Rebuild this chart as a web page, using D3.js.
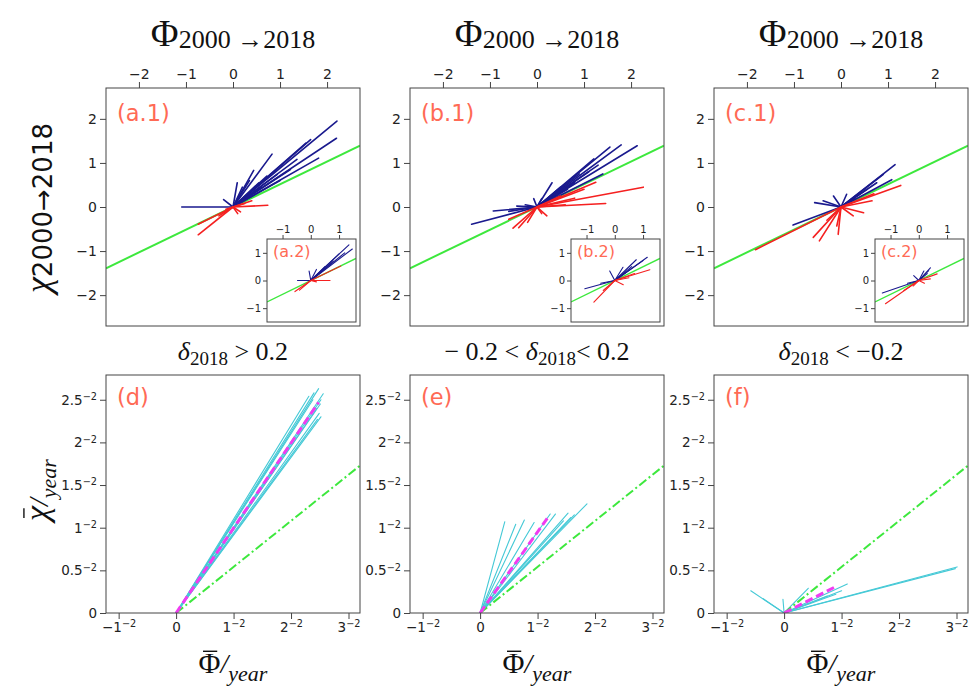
<!DOCTYPE html>
<html><head><meta charset="utf-8">
<script src="https://cdn.jsdelivr.net/npm/d3@7"></script>
<style>body{margin:0;background:#fff}svg{display:block}</style>
</head><body>
<svg id="c" width="976" height="691"></svg>
<script>
// ---------- tick values / labels ----------
const topTicks = [-2, -1, 0, 1, 2];
const insetTicks = [-1, 0, 1];
const botXTicks = [-1, 0, 1, 2, 3];
const botYTicks = [0, 0.5, 1, 1.5, 2, 2.5];
const tickExponent = "−2";
const topPanelLabels = ["(a.1)", "(b.1)", "(c.1)"];
const insetPanelLabels = ["(a.2)", "(b.2)", "(c.2)"];
const botPanelLabels = ["(d)", "(e)", "(f)"];
// [text, isSubscript, isItalic]
const midTitles = [
  [["δ", 0, 1], ["2018", 1, 0], [" > 0.2", 0, 0]],
  [["− 0.2 < ", 0, 0], ["δ", 0, 1], ["2018", 1, 0], ["< 0.2", 0, 0]],
  [["δ", 0, 1], ["2018", 1, 0], [" < −0.2", 0, 0]]
];
// reference line slopes
const greenSlopeTop = 0.515;
const greenSlopeInset = 0.5;
const greenSlopeBot = 0.54;

// ---------- top row: vector end points (start at origin) ----------
const blueA1 = [[2.21,1.95],[2.20,1.56],[1.82,1.11],[1.65,1.53],[1.55,1.45],[1.36,1.08],[1.22,0.85],[0.94,0.74],[0.83,1.20],[0.72,0.70],[0.44,0.83],[0.35,0.60],[0.55,0.55],[0.09,0.55],[0.20,0.45],[-0.20,0.17],[-1.09,0.0],[0.60,0.45],[1.00,0.60]];
const redA1 = [[-0.74,-0.63],[-0.74,-0.39],[0.74,0.04],[0.40,0.14],[0.16,-0.11],[-0.15,-0.05],[0.25,0.08],[-0.30,-0.20],[0.10,-0.15]];
const blueB1 = [[2.13,1.39],[1.79,1.41],[1.55,1.36],[1.21,1.09],[1.30,0.95],[1.10,0.80],[0.90,0.75],[0.80,0.55],[0.32,0.55],[0.50,0.45],[-1.39,-0.39],[-0.93,-0.09],[-0.43,0.02],[-0.60,-0.10],[-0.07,0.19],[0.10,0.19],[-0.25,0.05],[1.40,0.75],[0.65,0.40]];
const redB1 = [[2.26,0.45],[1.46,0.08],[1.25,0.56],[1.00,0.40],[0.80,0.20],[-0.51,-0.48],[-0.39,-0.47],[0.21,-0.20],[-0.60,-0.28],[0.10,-0.15],[0.50,0.25],[-0.20,-0.35],[0.60,0.05]];
const blueC1 = [[1.15,0.96],[0.90,0.74],[1.08,0.62],[0.76,0.55],[0.55,0.40],[-1.02,-0.41],[-0.38,0.14],[-0.16,0.25],[0.12,0.29],[-0.56,0.10],[0.30,0.20]];
const redC1 = [[1.27,0.49],[-1.82,-0.97],[-0.59,-0.69],[-0.46,-0.77],[-0.06,-0.62],[-0.09,-0.43],[0.66,0.14],[0.26,-0.20],[0.48,-0.13],[0.70,0.30],[-0.30,-0.30]];
// insets
const blueA2 = [[1.35,1.29],[1.47,1.14],[1.00,0.96],[1.20,1.00],[0.80,0.70],[0.50,0.50],[-0.47,0.0],[-0.06,0.34],[0.20,0.40]];
const redA2 = [[-0.56,-0.40],[0.68,0.0],[1.06,0.52],[-0.40,-0.35],[0.20,-0.05]];
const blueB2 = [[1.15,0.84],[1.00,0.72],[0.76,0.75],[0.60,0.50],[-1.06,-0.30],[-0.18,0.34],[0.29,0.48],[-0.50,-0.10],[0.40,0.30]];
const redB2 = [[1.24,0.39],[-0.74,-0.78],[-0.41,-0.36],[0.50,0.10],[0.30,-0.15],[0.70,0.25]];
const blueC2 = [[0.41,0.46],[0.35,0.36],[-1.29,-0.45],[-0.18,0.18],[0.18,0.34],[0.30,0.25],[-0.40,-0.10]];
const redC2 = [[-1.18,-0.84],[-0.53,-0.36],[0.41,0.06],[0.65,0.24],[0.20,-0.10],[-0.20,-0.20]];

// ---------- bottom row ----------
const cyanD = [[2.31,2.54],[2.40,2.58],[2.48,2.63],[2.56,2.57],[2.52,2.50],[2.51,2.45],[2.49,2.34],[2.52,2.30],[2.46,2.27],[2.45,2.40],[2.38,2.50]];
const cyanE = [[0.43,1.07],[0.62,1.04],[0.77,1.09],[0.94,1.06],[1.22,1.16],[1.31,1.16],[1.53,1.17],[1.64,1.15],[1.86,1.28],[1.45,1.08],[1.58,1.12]];
const cyanF = [[-0.58,0.26],[-0.37,0.17],[-0.02,0.16],[0.42,0.29],[1.10,0.34],[1.00,0.26],[0.90,0.22],[0.75,0.20],[3.01,0.54],[2.98,0.52]];
const meanD = [2.48, 2.47];
const meanE = [1.19, 1.13];
const meanF = [0.87, 0.30];

const topBlue = [blueA1, blueB1, blueC1], topRed = [redA1, redB1, redC1];
const insBlue = [blueA2, blueB2, blueC2], insRed = [redA2, redB2, redC2];
const botCyan = [cyanD, cyanE, cyanF], botMean = [meanD, meanE, meanF];

// ---------- layout ----------
const colX = [106, 410, 714], W = 254, H = 238;
const topY = 88, botY = 375;
const C = {blue:"#1a1a8e", red:"#f52020", green:"#3de83d", cyan:"#45c9d6", mag:"#f03cf0", lab:"#ff6a55", frame:"#444", txt:"#222"};
const tickFont = "DejaVu Sans, sans-serif";
const mathFont = "Liberation Serif, DejaVu Serif, serif";

const svg = d3.select("#c");
const fmtNum = d => (d < 0 ? "−" : "") + Math.abs(d);

function styleAxis(g, fs) {
  g.select(".domain").remove();
  g.selectAll(".tick line").attr("stroke", C.frame);
  g.selectAll(".tick text").attr("fill", C.txt).attr("font-family", tickFont).attr("font-size", fs);
}
function frame(g, x, y, w, h) {
  g.append("rect").attr("x", x).attr("y", y).attr("width", w).attr("height", h)
   .attr("fill", "none").attr("stroke", C.frame).attr("stroke-width", 1);
}
let clipId = 0;
function clip(x, y, w, h) {
  const id = "cl" + (clipId++);
  svg.append("clipPath").attr("id", id).append("rect").attr("x", x).attr("y", y).attr("width", w).attr("height", h);
  return "url(#" + id + ")";
}
function vectors(g, xs, ys, pts, color, sw) {
  g.selectAll(null).data(pts).join("line")
    .attr("x1", xs(0)).attr("y1", ys(0))
    .attr("x2", d => xs(d[0])).attr("y2", d => ys(d[1]))
    .attr("stroke", color).attr("stroke-width", sw).attr("stroke-linecap", "round");
}
function supTicks(g) {
  g.selectAll(".tick text").each(function(d) {
    const t = d3.select(this); t.text(null);
    t.append("tspan").text(fmtNum(d));
    if (d !== 0) t.append("tspan").attr("dy", "-0.45em").attr("font-size", "0.72em").text(tickExponent);
  });
}
// "X̄/year" label inside group g (already positioned); overline drawn from first glyph extent
function barLabel(g, sym, symSize) {
  const t = g.append("text").attr("text-anchor", "middle").attr("font-family", mathFont).attr("fill", "#111");
  t.append("tspan").attr("font-size", symSize).attr("font-style", sym === "χ" ? "italic" : "normal").text(sym);
  t.append("tspan").attr("font-size", 28).attr("font-style", "italic").text("/");
  t.append("tspan").attr("font-size", 22).attr("font-style", "italic").attr("dy", 8).text("year");
  const r = t.node().getExtentOfChar(0);
  const top = r.y + r.height * 0.16;
  g.append("line").attr("x1", r.x + r.width * 0.2).attr("x2", r.x + r.width * 0.85)
    .attr("y1", top).attr("y2", top).attr("stroke", "#111").attr("stroke-width", 1.4);
}

for (let i = 0; i < 3; i++) {
  const x0 = colX[i];
  // ================= top panel =================
  const xs = d3.scaleLinear().domain([-2.7, 2.7]).range([x0, x0 + W]);
  const ys = d3.scaleLinear().domain([-2.7, 2.7]).range([topY + H, topY]);
  const gT = svg.append("g");
  const cp = gT.append("g").attr("clip-path", clip(x0, topY, W, H));
  cp.append("line").attr("x1", xs(-2.7)).attr("y1", ys(-2.7 * greenSlopeTop))
    .attr("x2", xs(2.7)).attr("y2", ys(2.7 * greenSlopeTop))
    .attr("stroke", C.green).attr("stroke-width", 2);
  vectors(cp, xs, ys, topBlue[i], C.blue, 1.6);
  vectors(cp, xs, ys, topRed[i], C.red, 1.6);
  gT.append("g").attr("transform", `translate(0,${topY})`)
    .call(d3.axisTop(xs).tickValues(topTicks).tickSize(6).tickPadding(3).tickFormat(fmtNum))
    .call(g => styleAxis(g, 14));
  gT.append("g").attr("transform", `translate(${x0},0)`)
    .call(d3.axisLeft(ys).tickValues(topTicks).tickSize(6).tickPadding(3).tickFormat(fmtNum))
    .call(g => styleAxis(g, 14));
  frame(gT, x0, topY, W, H);
  gT.append("text").attr("x", x0 + 11).attr("y", topY + 33).text(topPanelLabels[i])
    .attr("fill", C.lab).attr("font-family", tickFont).attr("font-size", 22.5);

  // ================= inset =================
  const ix = x0 + 161, iy = topY + 151, iw = 89, ih = 83;
  const xi = d3.scaleLinear().domain([-1.55, 1.6]).range([ix, ix + iw]);
  const yi = d3.scaleLinear().domain([-1.5, 1.5]).range([iy + ih, iy]);
  const gI = svg.append("g");
  gI.append("rect").attr("x", ix).attr("y", iy).attr("width", iw).attr("height", ih).attr("fill", "#fff");
  const ci = gI.append("g").attr("clip-path", clip(ix, iy, iw, ih));
  ci.append("line").attr("x1", xi(-1.55)).attr("y1", yi(-1.55 * greenSlopeInset))
    .attr("x2", xi(1.6)).attr("y2", yi(1.6 * greenSlopeInset))
    .attr("stroke", C.green).attr("stroke-width", 1.4);
  vectors(ci, xi, yi, insBlue[i], C.blue, 1.1);
  vectors(ci, xi, yi, insRed[i], C.red, 1.1);
  gI.append("g").attr("transform", `translate(0,${iy})`)
    .call(d3.axisTop(xi).tickValues(insetTicks).tickSize(4).tickPadding(2).tickFormat(fmtNum))
    .call(g => styleAxis(g, 10));
  gI.append("g").attr("transform", `translate(${ix},0)`)
    .call(d3.axisLeft(yi).tickValues(insetTicks).tickSize(4).tickPadding(2).tickFormat(fmtNum))
    .call(g => styleAxis(g, 10));
  frame(gI, ix, iy, iw, ih);
  gI.append("text").attr("x", ix + 6).attr("y", iy + 18).text(insetPanelLabels[i])
    .attr("fill", C.lab).attr("font-family", tickFont).attr("font-size", 16);

  // ================= titles =================
  const cx = x0 + W / 2;
  const tt = svg.append("text").attr("x", cx).attr("y", 46).attr("text-anchor", "middle")
    .attr("font-family", mathFont).attr("fill", "#111");
  tt.append("tspan").attr("font-size", 38).text("Φ");
  tt.append("tspan").attr("font-size", 26).attr("dy", 2).text("2000 →2018");

  const mt = svg.append("text").attr("x", cx).attr("y", 360).attr("text-anchor", "middle")
    .attr("font-family", mathFont).attr("fill", "#111").attr("font-size", 26);
  let sh = 0;
  midTitles[i].forEach(([t, sub, it]) => {
    const dy = sub ? 5 - sh : -sh; sh = sub ? 5 : 0;
    mt.append("tspan").attr("dy", dy).attr("font-size", sub ? 19 : 26)
      .attr("font-style", it ? "italic" : "normal").text(t);
  });

  // ================= bottom panel =================
  const xb = d3.scaleLinear().domain([-1.22, 3.2]).range([x0, x0 + W]);
  const yb = d3.scaleLinear().domain([0, 2.79]).range([botY + H, botY]);
  const gB = svg.append("g");
  const cb = gB.append("g").attr("clip-path", clip(x0, botY, W, H));
  vectors(cb, xb, yb, botCyan[i], C.cyan, 1.1);
  cb.append("line").attr("x1", xb(0)).attr("y1", yb(0))
    .attr("x2", xb(3.2)).attr("y2", yb(3.2 * greenSlopeBot))
    .attr("stroke", C.green).attr("stroke-width", 2).attr("stroke-dasharray", "9,3,2,3");
  cb.append("line").attr("x1", xb(0)).attr("y1", yb(0))
    .attr("x2", xb(botMean[i][0])).attr("y2", yb(botMean[i][1]))
    .attr("stroke", C.mag).attr("stroke-width", 3).attr("stroke-dasharray", "8,4");
  gB.append("g").attr("transform", `translate(0,${botY + H})`)
    .call(d3.axisBottom(xb).tickValues(botXTicks).tickSize(6).tickPadding(3))
    .call(g => styleAxis(g, 13.5)).call(supTicks);
  gB.append("g").attr("transform", `translate(${x0},0)`)
    .call(d3.axisLeft(yb).tickValues(botYTicks).tickSize(6).tickPadding(3))
    .call(g => styleAxis(g, 13.5)).call(supTicks);
  frame(gB, x0, botY, W, H);
  gB.append("text").attr("x", x0 + 11).attr("y", botY + 30).text(botPanelLabels[i])
    .attr("fill", C.lab).attr("font-family", tickFont).attr("font-size", 22.5);

  barLabel(svg.append("g").attr("transform", `translate(${cx},673)`), "Φ", 30);
}

// y labels
const yl1 = svg.append("text").attr("transform", "translate(50,208) rotate(-90)")
  .attr("text-anchor", "middle").attr("fill", "#111");
yl1.append("tspan").attr("font-family", mathFont).attr("font-style", "italic").attr("font-size", 36).text("χ");
yl1.append("tspan").attr("font-family", tickFont).attr("font-size", 26).attr("dy", 2).text("2000→2018");

barLabel(svg.append("g").attr("transform", "translate(48,490) rotate(-90)"), "χ", 34);
</script>
</body></html>
